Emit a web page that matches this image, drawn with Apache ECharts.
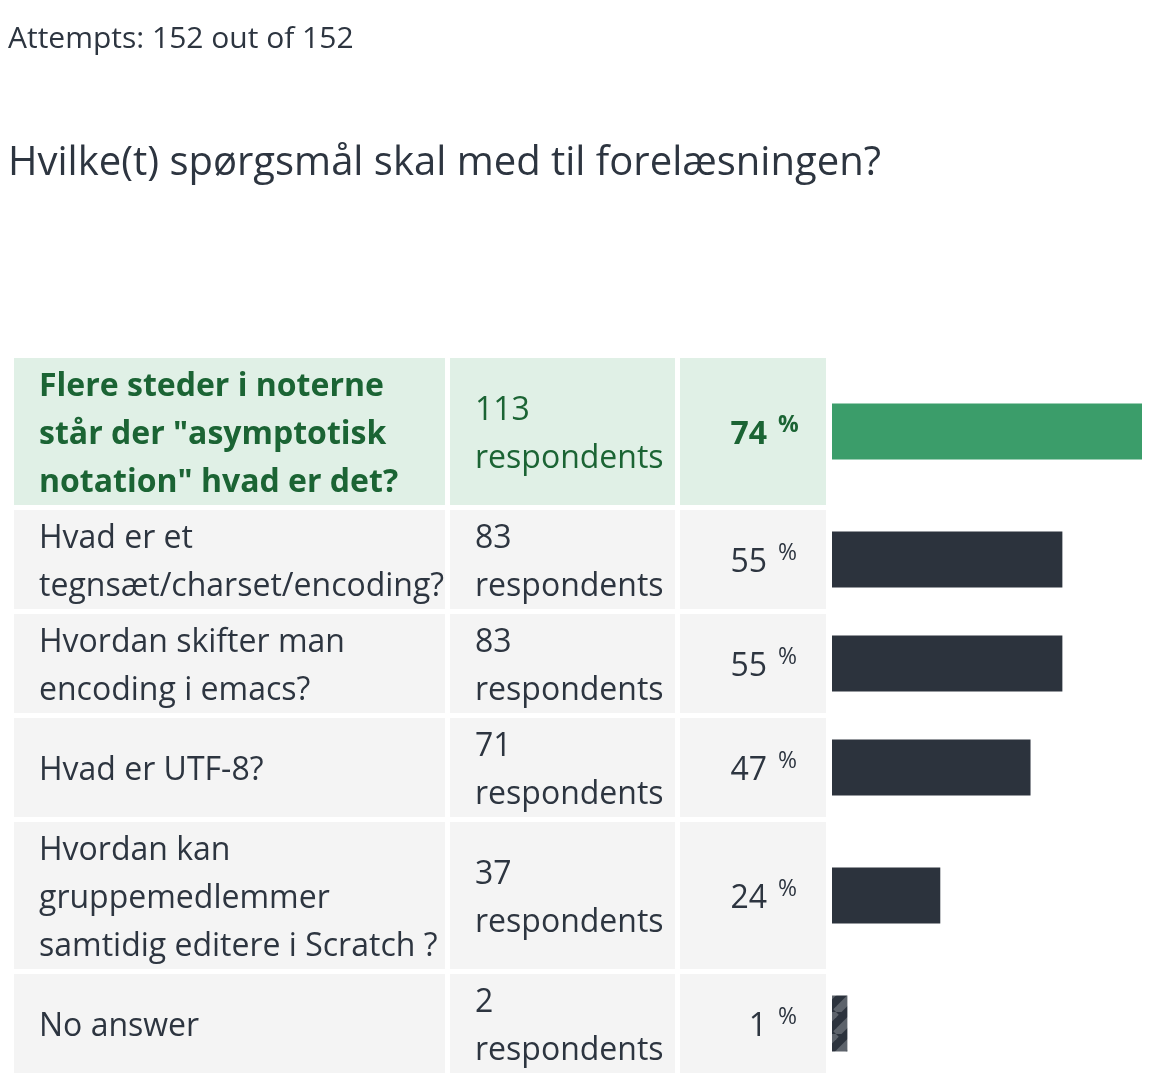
<!DOCTYPE html>
<html>
<head>
<meta charset="utf-8">
<script src="https://cdn.jsdelivr.net/npm/echarts@6/dist/echarts.min.js"></script>
<style>
  html, body { margin: 0; padding: 0; background: #ffffff; }
  #chart { width: 1150px; height: 1088px; }
</style>
</head>
<body>
<div id="chart"></div>
<script>
// ---- data ----
const attemptsText = 'Attempts: 152 out of 152';
const questionTitle = 'Hvilke(t) spørgsmål skal med til forelæsningen?';
const questions = [
  'Flere steder i noterne\nstår der "asymptotisk\nnotation" hvad er det?',
  'Hvad er et\ntegnsæt/charset/encoding?',
  'Hvordan skifter man\nencoding i emacs?',
  'Hvad er UTF-8?',
  'Hvordan kan\ngruppemedlemmer\nsamtidig editere i Scratch ?',
  'No answer'
];
const respondents = [113, 83, 83, 71, 37, 2];
const percents = [74, 55, 55, 47, 24, 1];
const totalAttempts = 152;
const respondentsLabel = 'respondents';

// ---- layout / style ----
const FONT = '"Open Sans", "Noto Sans", sans-serif';
const FS = 32;
const LINE_H = 48;
const ROW_PAD = 3;
const ROW_GAP = 5;
const TABLE_TOP = 358;
const COL1 = [14, 445], COL2 = [450, 675], COL3 = [680, 826];
const TEXT_PAD = 25;
const TEXT_DY = 3;
const BAR_H = 56;
const TEXT_COLOR = '#2d3540';
const GREEN_TEXT = '#1b6434';
const GREEN_BG = '#e0f0e6';
const GRAY_BG = '#f4f4f4';
const GREEN_BAR = '#3b9d6a';
const DARK_BAR = '#2c333d';
const HATCH_LIGHT = '#5d636b';
const X_MIN = -2.5;

const barValues = respondents.map(r => r / totalAttempts * 100);
const maxIdx = respondents.indexOf(Math.max(...respondents.slice(0, respondents.length - 1)));

// row extents (in pixel units of the hidden y value axis)
const rows = [];
let cursor = 0;
questions.forEach((q, i) => {
  const lines = Math.max(q.split('\n').length, 2);
  const h = lines * LINE_H + ROW_PAD;
  rows.push([barValues[i], cursor, cursor + h, i]);
  cursor += h + ROW_GAP;
});
const totalH = cursor;

// hatch pattern for "No answer"
const P = 22;
const pc = document.createElement('canvas');
pc.width = P; pc.height = P;
const pctx = pc.getContext('2d');
pctx.fillStyle = DARK_BAR;
pctx.fillRect(0, 0, P, P);
pctx.strokeStyle = HATCH_LIGHT;
pctx.lineWidth = P / 2 / Math.SQRT2;
[-P, 0, P].forEach(k => {
  pctx.beginPath();
  pctx.moveTo(k, P);
  pctx.lineTo(k + P, 0);
  pctx.stroke();
});
const hatch = { image: pc, repeat: 'repeat' };

const chart = echarts.init(document.getElementById('chart'), null, { renderer: 'canvas' });

function renderItem(params, api) {
  const i = api.value(3);
  const top = api.coord([X_MIN, api.value(1)])[1];
  const bottom = api.coord([X_MIN, api.value(2)])[1];
  const x0 = api.coord([X_MIN, 0])[0];
  const x1 = api.coord([api.value(0), 0])[0];
  const cy = (top + bottom) / 2;
  const hl = i === maxIdx;
  const isNoAnswer = i === questions.length - 1;
  const bg = hl ? GREEN_BG : GRAY_BG;
  const tc = hl ? GREEN_TEXT : TEXT_COLOR;
  const children = [];
  [COL1, COL2, COL3].forEach(c => {
    children.push({ type: 'rect', shape: { x: c[0], y: top, width: c[1] - c[0], height: bottom - top }, style: { fill: bg } });
  });
  children.push({
    type: 'text',
    style: {
      text: questions[i], x: COL1[0] + TEXT_PAD, y: cy + TEXT_DY,
      fontFamily: FONT, fontSize: FS, fontWeight: hl ? 'bold' : 'normal',
      lineHeight: LINE_H, fill: tc, align: 'left', verticalAlign: 'middle'
    }
  });
  children.push({
    type: 'text',
    style: {
      text: respondents[i] + '\n' + respondentsLabel, x: COL2[0] + TEXT_PAD, y: cy + TEXT_DY,
      fontFamily: FONT, fontSize: FS, lineHeight: LINE_H, fill: tc,
      align: 'left', verticalAlign: 'middle'
    }
  });
  children.push({
    type: 'text',
    style: {
      text: String(percents[i]), x: 767, y: cy + TEXT_DY,
      fontFamily: FONT, fontSize: FS, fontWeight: hl ? 'bold' : 'normal',
      fill: tc, align: 'right', verticalAlign: 'middle'
    }
  });
  children.push({
    type: 'text',
    style: {
      text: '%', x: 778, y: cy - 6,
      fontFamily: FONT, fontSize: 23, fontWeight: hl ? 'bold' : 'normal',
      fill: tc, align: 'left', verticalAlign: 'middle'
    }
  });
  children.push({
    type: 'rect',
    shape: { x: x0, y: cy - BAR_H / 2, width: x1 - x0, height: BAR_H },
    style: { fill: hl ? GREEN_BAR : (isNoAnswer ? hatch : DARK_BAR) }
  });
  return { type: 'group', children: children };
}

chart.setOption({
  animation: false,
  backgroundColor: '#ffffff',
  title: [
    { text: attemptsText, left: 8, top: 24, padding: 0, textStyle: { fontFamily: FONT, fontSize: 30, fontWeight: 'normal', color: TEXT_COLOR } },
    { text: questionTitle, left: 8, top: 144, padding: 0, textStyle: { fontFamily: FONT, fontSize: 40, fontWeight: 'normal', color: TEXT_COLOR } }
  ],
  grid: { left: 832, width: 310, top: TABLE_TOP, height: totalH, containLabel: false },
  xAxis: { type: 'value', min: X_MIN, max: Math.max(...barValues), show: false },
  yAxis: { type: 'value', min: 0, max: totalH, inverse: true, show: false },
  series: [{
    type: 'custom',
    renderItem: renderItem,
    data: rows,
    encode: { x: 0, y: [1, 2] },
    clip: false
  }]
});
</script>
</body>
</html>
